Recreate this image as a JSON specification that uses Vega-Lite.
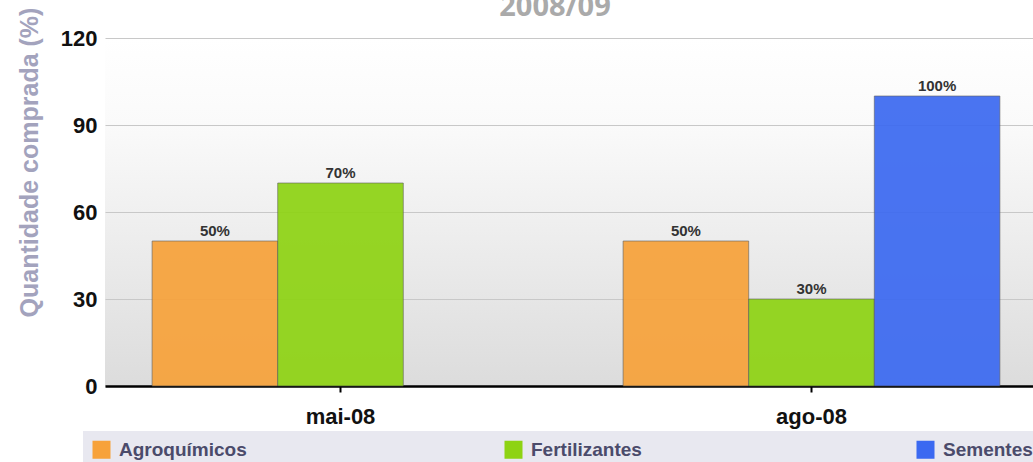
{
  "$schema": "https://vega.github.io/schema/vega-lite/v6.json",
  "width": 928,
  "height": 348,
  "autosize": {"type": "none"},
  "padding": {"left": 105, "top": 38, "right": 0, "bottom": 76},
  "background": "white",
  "title": {"text": "2008/09", "font": "Open Sans", "fontSize": 29, "fontWeight": "bold", "color": "#aaaaaa", "anchor": "middle", "frame": "group", "dx": -14, "offset": 0, "dy": 38, "baseline": "alphabetic"},
  "data": {"values": [
    {"mes": "mai-08", "categoria": "Agroquímicos", "valor": 50},
    {"mes": "mai-08", "categoria": "Fertilizantes", "valor": 70},
    {"mes": "ago-08", "categoria": "Agroquímicos", "valor": 50},
    {"mes": "ago-08", "categoria": "Fertilizantes", "valor": 30},
    {"mes": "ago-08", "categoria": "Sementes", "valor": 100}
  ]},
  "encoding": {
    "x": {"field": "mes", "type": "nominal", "sort": ["mai-08", "ago-08"],
      "scale": {"range": [0, 942], "paddingInner": 0.2, "paddingOuter": 0.1},
      "axis": {"title": null, "labelAngle": 0, "labelFont": "Liberation Sans", "labelFontSize": 22, "labelFontWeight": "bold", "labelColor": "#111111", "domainColor": "#000000", "domainWidth": 2.5, "tickColor": "#000000", "tickSize": 6, "tickWidth": 2, "labelPadding": 14, "grid": false}},
    "xOffset": {"field": "categoria", "type": "nominal", "scale": {"domain": ["Agroquímicos", "Fertilizantes", "Sementes"], "paddingInner": 0, "paddingOuter": 0}},
    "y": {"field": "valor", "type": "quantitative", "scale": {"domain": [0, 120]},
      "axis": {"values": [0, 30, 60, 90, 120], "title": "Quantidade comprada (%)", "titleFont": "Liberation Sans", "titleFontSize": 25, "titleFontWeight": "bold", "titleColor": "#a3a3bd", "titleAngle": -90, "titleX": -68, "titleY": 124, "titleAlign": "center", "titleBaseline": "alphabetic", "labelFont": "Liberation Sans", "labelFontSize": 22, "labelFontWeight": "bold", "labelColor": "#111111", "labelPadding": 8, "ticks": false, "domain": false, "gridColor": "#c8c8c8", "gridWidth": 1.2}}
  },
  "layer": [
    {"mark": {"type": "bar", "stroke": "#555555", "strokeWidth": 1, "strokeOpacity": 0.6, "opacity": 0.92},
     "encoding": {"color": {"field": "categoria", "type": "nominal",
       "scale": {"domain": ["Agroquímicos", "Fertilizantes", "Sementes"], "range": ["#f7a23a", "#8ed313", "#3b69f1"]},
       "legend": {"title": null, "orient": "none", "legendX": -22, "legendY": 393, "direction": "horizontal", "columns": 3, "gridAlign": "all", "columnPadding": 257, "padding": 9, "fillColor": "#e8e8f0", "symbolType": "square", "symbolSize": 324, "symbolStrokeWidth": 0, "symbolOpacity": 1, "labelFont": "Liberation Sans", "labelFontSize": 19, "labelFontWeight": "bold", "labelColor": "#4b4b6b", "labelOffset": 8, "labelLimit": 300}}}},
    {"mark": {"type": "text", "baseline": "alphabetic", "dy": -5, "font": "Liberation Sans", "fontWeight": "bold", "fontSize": 15, "color": "#333333", "text": {"expr": "datum.valor + '%'"}}}
  ],
  "config": {"view": {"stroke": null, "fill": {"gradient": "linear", "x1": 0, "y1": 0, "x2": 0, "y2": 1, "stops": [{"offset": 0, "color": "#ffffff"}, {"offset": 0.25, "color": "#fafafa"}, {"offset": 1, "color": "#dcdcdc"}]}}}
}
